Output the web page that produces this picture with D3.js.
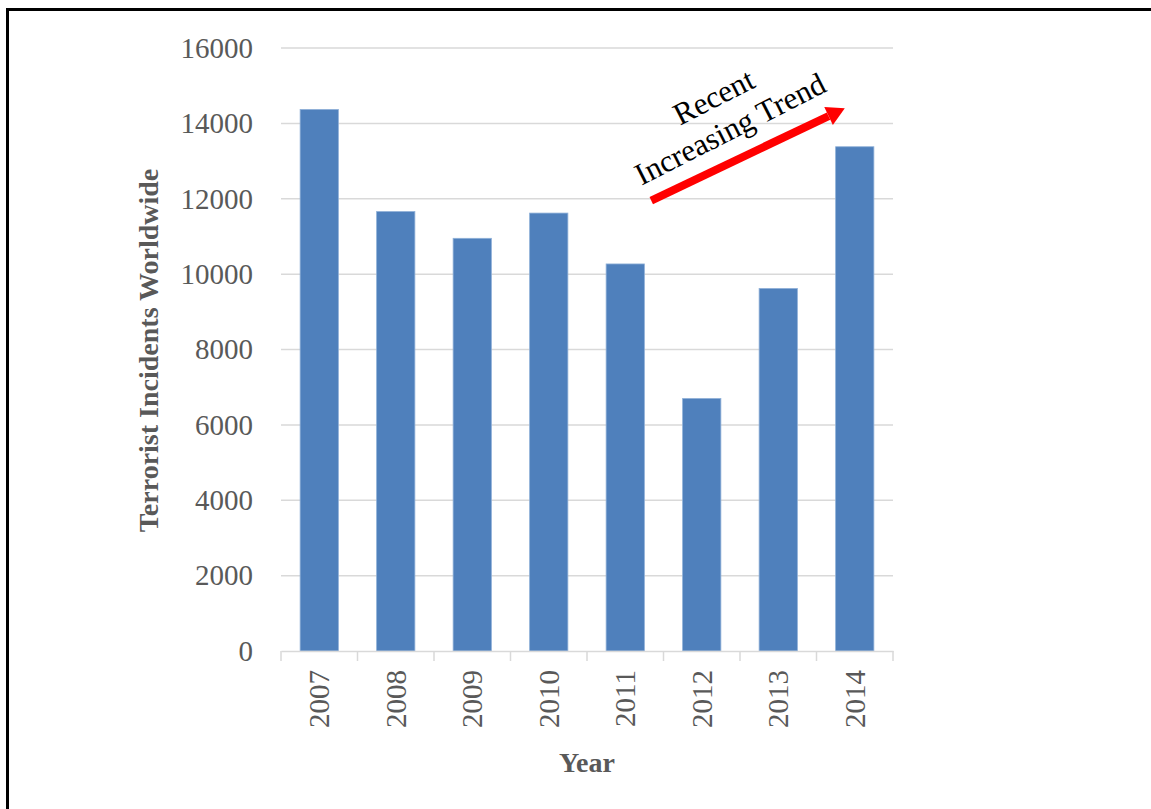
<!DOCTYPE html>
<html>
<head>
<meta charset="utf-8">
<script src="https://cdn.jsdelivr.net/npm/d3@7"></script>
<style>
  body { margin: 0; background: #fff; }
</style>
</head>
<body>
<script>
const years = ["2007", "2008", "2009", "2010", "2011", "2012", "2013", "2014"]
const incidents = [14370, 11660, 10950, 11620, 10270, 6700, 9620, 13380]
const yTicks = [0, 2000, 4000, 6000, 8000, 10000, 12000, 14000, 16000]
const noteLines = ["Recent", "Increasing Trend"]
// arrow from / to, and note centre, as [category index, value]
const arrowFrom = [4.34, 11950]
const arrowTo = [6.87, 14400]
const notePos = [5.26, 14290]

const W = 1151, H = 809
const margin = ({top: 48, right: 258, bottom: 158, left: 281})

const svg = d3.select("body").append("svg")
  .attr("width", W)
  .attr("height", H)

// frame
svg.append("rect")
  .attr("x", 7.5).attr("y", 9.5)
  .attr("width", W + 20).attr("height", H + 20)
  .attr("fill", "none")
  .attr("stroke", "#000")
  .attr("stroke-width", 3)

const x = d3.scaleBand()
  .domain(years)
  .range([margin.left, W - margin.right])
  .paddingInner(0.5)
  .paddingOuter(0.25)

const y = d3.scaleLinear()
  .domain([0, 16000])
  .range([H - margin.bottom, margin.top])

const xIdx = i => x.range()[0] + (i + 0.5) * x.step()

// gridlines
svg.append("g")
  .selectAll("line")
  .data(yTicks.filter(d => d > 0))
  .join("line")
  .attr("x1", x.range()[0]).attr("x2", x.range()[1])
  .attr("y1", d => y(d)).attr("y2", d => y(d))
  .attr("stroke", "#d9d9d9")
  .attr("stroke-width", 1.5)

// y labels
const yAxis = svg.append("g")
  .attr("transform", `translate(${x.range()[0]},0)`)
  .call(d3.axisLeft(y).tickValues(yTicks).tickSize(0).tickPadding(28).tickFormat(d3.format("d")))
yAxis.select(".domain").remove()
yAxis.selectAll("text")
  .style("font", "29px 'Liberation Serif', 'Times New Roman', serif")
  .attr("fill", "#595959")

// bars
svg.append("g")
  .selectAll("rect")
  .data(years)
  .join("rect")
  .attr("x", d => x(d))
  .attr("width", x.bandwidth())
  .attr("y", (d, i) => y(incidents[i]))
  .attr("height", (d, i) => y(0) - y(incidents[i]))
  .attr("fill", "#4f80bc")
  .attr("stroke", "#8fb0d8")
  .attr("stroke-width", 0.8)

// x axis
const xAxis = svg.append("g")
  .attr("transform", `translate(0,${y(0)})`)
  .call(d3.axisBottom(x).tickSize(0).tickPadding(0))
xAxis.select(".domain")
  .attr("stroke", "#d9d9d9")
  .attr("stroke-width", 1.5)
xAxis.selectAll("text")
  .attr("transform", "rotate(-90)")
  .attr("x", -19).attr("y", 0).attr("dy", "0.35em")
  .style("text-anchor", "end")
  .style("font", "29px 'Liberation Serif', 'Times New Roman', serif")
  .attr("fill", "#595959")

// category boundary ticks
svg.append("g")
  .selectAll("line")
  .data(d3.range(years.length + 1))
  .join("line")
  .attr("x1", i => x.range()[0] + i * x.step())
  .attr("x2", i => x.range()[0] + i * x.step())
  .attr("y1", y(0)).attr("y2", y(0) + 10)
  .attr("stroke", "#d9d9d9")
  .attr("stroke-width", 1.5)

// axis titles
svg.append("text")
  .attr("transform", `translate(158,${(y(0) + y(16000)) / 2 + 1}) rotate(-90)`)
  .attr("text-anchor", "middle")
  .style("font", "bold 28px 'Liberation Serif', 'Times New Roman', serif")
  .attr("fill", "#595959")
  .text("Terrorist Incidents Worldwide")

svg.append("text")
  .attr("x", (x.range()[0] + x.range()[1]) / 2)
  .attr("y", 772)
  .attr("text-anchor", "middle")
  .style("font", "bold 28px 'Liberation Serif', 'Times New Roman', serif")
  .attr("fill", "#595959")
  .text("Year")

// annotation arrow
const x1 = xIdx(arrowFrom[0]), y1 = y(arrowFrom[1])
const x2 = xIdx(arrowTo[0]), y2 = y(arrowTo[1])
const ang = Math.atan2(y2 - y1, x2 - x1)
const headLen = 18, headW = 10
const bx = x2 - headLen * Math.cos(ang), by = y2 - headLen * Math.sin(ang)
svg.append("line")
  .attr("x1", x1).attr("y1", y1)
  .attr("x2", bx).attr("y2", by)
  .attr("stroke", "#ff0000")
  .attr("stroke-width", 8)
svg.append("path")
  .attr("d", `M${x2},${y2}L${bx + headW * Math.sin(ang)},${by - headW * Math.cos(ang)}L${bx - headW * Math.sin(ang)},${by + headW * Math.cos(ang)}Z`)
  .attr("fill", "#ff0000")

// note text
const note = svg.append("text")
  .attr("transform", `translate(${xIdx(notePos[0])},${y(notePos[1])}) rotate(-27)`)
  .attr("text-anchor", "middle")
  .style("font", "31px 'Liberation Serif', 'Times New Roman', serif")
  .attr("fill", "#000")
note.selectAll("tspan")
  .data(noteLines)
  .join("tspan")
  .attr("x", 0)
  .attr("dy", (d, i) => i === 0 ? -7 : 36)
  .text(d => d)
</script>
</body>
</html>
